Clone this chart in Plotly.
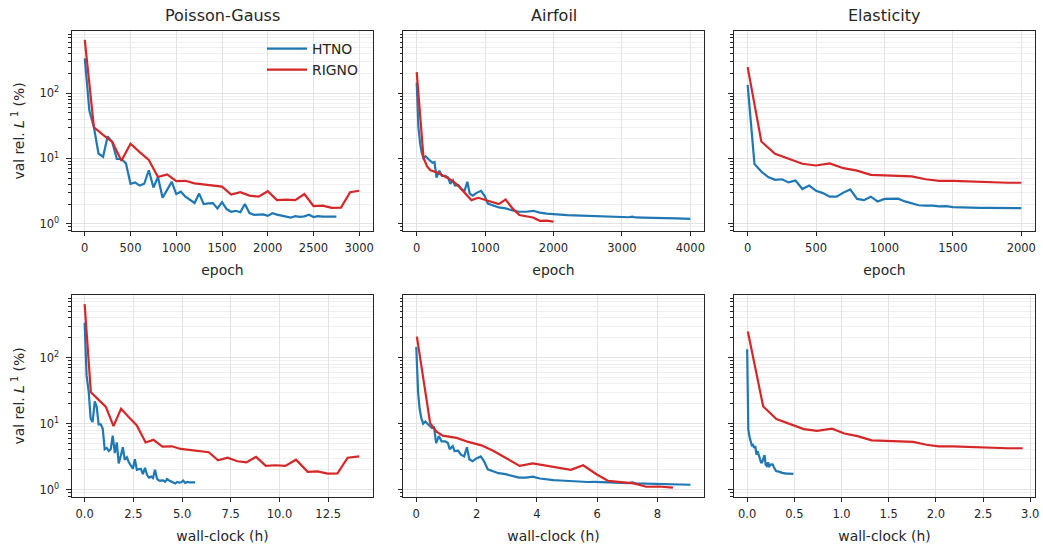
import plotly.graph_objects as go
from plotly.subplots import make_subplots

# ---------------- data ----------------
titles = ["Poisson-Gauss", "Airfoil", "Elasticity"]
series_names = ["HTNO", "RIGNO"]

# Poisson-Gauss
pg_htno_epoch = [0, 50, 100, 150, 200, 250, 300, 350, 400, 450, 500, 550, 600, 650, 700, 750, 800, 850, 900, 950,
                 1000, 1050, 1100, 1150, 1200, 1250, 1300, 1350, 1400, 1450, 1500, 1550, 1600, 1650, 1700, 1750,
                 1800, 1850, 1900, 1950, 2000, 2050, 2100, 2150, 2200, 2250, 2300, 2350, 2400, 2450, 2500, 2550,
                 2600, 2650, 2700, 2750]
pg_htno_val = [340, 54, 30, 11.9, 10.6, 21.8, 17.9, 9.8, 9.8, 8.4, 4.1, 4.3, 3.85, 4.1, 6.6, 3.6, 5.2, 2.5, 3.3, 4.4,
               2.85, 3.1, 2.6, 2.3, 2.08, 2.9, 2.0, 2.05, 2.07, 1.72, 2.15, 1.68, 1.53, 1.58, 1.5, 2.0,
               1.46, 1.37, 1.37, 1.39, 1.32, 1.45, 1.38, 1.34, 1.29, 1.24, 1.31, 1.28, 1.3, 1.38, 1.27, 1.31,
               1.29, 1.29, 1.29, 1.29]
pg_htno_time = [0.0, 0.10, 0.21, 0.31, 0.41, 0.52, 0.62, 0.72, 0.83, 0.93, 1.03, 1.14, 1.24, 1.34, 1.44, 1.55, 1.65,
                1.75, 1.86, 1.96, 2.06, 2.17, 2.27, 2.37, 2.48, 2.58, 2.68, 2.79, 2.89, 2.99, 3.10, 3.20, 3.30,
                3.41, 3.51, 3.61, 3.72, 3.82, 3.92, 4.03, 4.13, 4.23, 4.34, 4.44, 4.54, 4.65, 4.75, 4.85, 4.96,
                5.06, 5.16, 5.27, 5.37, 5.47, 5.58, 5.67]
pg_rigno_epoch = [0, 100, 200, 300, 400, 500, 600, 700, 800, 900, 1000, 1100, 1200, 1300, 1400, 1500, 1600, 1700,
                  1800, 1900, 2000, 2100, 2200, 2300, 2400, 2500, 2600, 2700, 2800, 2900, 3000]
pg_rigno_val = [650, 30, 23, 18, 9.2, 16.8, 12.5, 9.5, 5.2, 5.7, 4.5, 4.55, 4.15, 4.0, 3.85, 3.7, 2.8, 3.05,
                2.7, 2.6, 3.15, 2.3, 2.35, 2.3, 2.85, 1.87, 1.9, 1.75, 1.77, 3.05, 3.2]
pg_rigno_time = [0.0, 0.32, 0.72, 1.09, 1.48, 1.87, 2.27, 2.67, 3.13, 3.53, 3.99, 4.48, 4.94, 5.42, 5.9, 6.37,
                 6.85, 7.34, 7.84, 8.3, 8.8, 9.3, 9.8, 10.3, 10.85, 11.45, 11.96, 12.47, 12.98, 13.5, 14.1]

# Airfoil
af_htno_epoch = [0, 25, 50, 75, 100, 130, 170, 200, 230, 260, 290, 330, 370, 420, 460, 490, 530, 560, 610, 650,
                 700, 740, 775, 820, 870, 940, 990, 1040, 1110, 1200, 1300, 1400, 1500, 1600, 1700, 1800, 1900,
                 2000, 2100, 2200, 2300, 2400, 2500, 2600, 2700, 2800, 2900, 3000, 3100, 3150, 3200, 3300, 3400,
                 3500, 3600, 3700, 3800, 3900, 4000]
af_htno_val = [145, 30, 17, 12, 10, 10.8, 9.8, 9.2, 8.6, 8.8, 5.1, 6.5, 5.4, 5.4, 5.1, 4.1, 4.6, 3.85, 3.9, 3.4,
               3.2, 4.4, 2.9, 2.7, 2.95, 3.2, 2.7, 2.04, 1.93, 1.78, 1.72, 1.6, 1.53, 1.53, 1.58, 1.48, 1.43,
               1.40, 1.38, 1.36, 1.35, 1.34, 1.31, 1.32, 1.30, 1.29, 1.28, 1.27, 1.26, 1.29, 1.25, 1.24, 1.24,
               1.23, 1.23, 1.22, 1.21, 1.20, 1.19]
af_htno_time = [0.0, 0.06, 0.11, 0.17, 0.23, 0.30, 0.39, 0.46, 0.52, 0.59, 0.66, 0.75, 0.84, 0.96, 1.05, 1.11,
                1.21, 1.27, 1.39, 1.48, 1.59, 1.68, 1.76, 1.87, 1.98, 2.14, 2.25, 2.37, 2.53, 2.73, 2.96, 3.19,
                3.41, 3.64, 3.87, 4.10, 4.32, 4.55, 4.78, 5.01, 5.23, 5.46, 5.69, 5.92, 6.14, 6.37, 6.60, 6.83,
                7.05, 7.17, 7.28, 7.51, 7.74, 7.96, 8.19, 8.42, 8.65, 8.87, 9.10]
af_rigno_epoch = [0, 100, 150, 200, 300, 400, 500, 600, 700, 800, 900, 1000, 1100, 1200, 1300, 1400, 1500, 1600,
                  1700, 1800, 1900, 2000]
af_rigno_val = [209, 10.2, 7.6, 6.6, 6.1, 5.3, 4.7, 3.9, 3.0, 2.3, 2.5, 2.3, 2.16, 2.0, 2.35, 1.72, 1.36, 1.29,
                1.25, 1.11, 1.12, 1.08]
af_rigno_time = [0.02, 0.46, 0.67, 0.88, 1.34, 1.73, 2.16, 2.55, 2.99, 3.43, 3.87, 4.3, 4.75, 5.13, 5.54, 5.98,
                 6.37, 6.78, 7.22, 7.63, 8.04, 8.52]

# Elasticity
el_htno_epoch = [0, 50, 100, 150, 200, 250, 300, 350, 400, 450, 500, 550, 600, 650, 700, 750, 800, 850, 900, 950,
                 1000, 1050, 1100, 1150, 1200, 1250, 1300, 1350, 1400, 1450, 1500, 1550, 1600, 1650, 1700, 1750,
                 1800, 1850, 1900, 1950, 2000]
el_htno_val = [134, 8.2, 6.3, 5.2, 4.7, 4.8, 4.3, 4.6, 3.4, 3.85, 3.2, 2.95, 2.6, 2.6, 3.0, 3.35, 2.4, 2.3, 2.6,
               2.2, 2.4, 2.4, 2.42, 2.2, 2.07, 1.92, 1.9, 1.9, 1.85, 1.86, 1.8, 1.78, 1.77, 1.76, 1.75, 1.75,
               1.75, 1.75, 1.74, 1.74, 1.74]
el_htno_time = [0.0, 0.012, 0.025, 0.037, 0.049, 0.061, 0.074, 0.086, 0.098, 0.110, 0.123, 0.135, 0.147, 0.159,
                0.172, 0.184, 0.196, 0.208, 0.221, 0.233, 0.245, 0.257, 0.270, 0.282, 0.294, 0.306, 0.319,
                0.331, 0.343, 0.355, 0.368, 0.380, 0.392, 0.404, 0.417, 0.429, 0.441, 0.453, 0.466, 0.478, 0.490]
el_rigno_epoch = [0, 100, 200, 300, 400, 500, 600, 700, 800, 900, 1000, 1100, 1200, 1300, 1400, 1500, 1600, 1700,
                  1800, 1900, 2000]
el_rigno_val = [250, 18.2, 11.8, 9.8, 8.3, 7.8, 8.4, 7.1, 6.5, 5.6, 5.5, 5.45, 5.3, 4.8, 4.55, 4.55, 4.45, 4.4,
                4.25, 4.25, 4.25]
el_rigno_time = [0.007, 0.17, 0.31, 0.47, 0.6, 0.74, 0.9, 1.03, 1.17, 1.32, 1.47, 1.62, 1.76, 1.9, 2.03, 2.18,
                 2.32, 2.48, 2.62, 2.76, 2.92]

y_major = [1, 10, 100]
y_major_text = ["10<sup>0</sup>", "10<sup>1</sup>", "10<sup>2</sup>"]

# ---------------- figure ----------------
FONT = "DejaVu Sans"
BLUE = "#1f77b4"
RED = "#d62728"
INK = "#262626"

fig = make_subplots(rows=2, cols=3, horizontal_spacing=0.03, vertical_spacing=0.1)

datasets = [
    (pg_htno_epoch, pg_htno_time, pg_htno_val, pg_rigno_epoch, pg_rigno_time, pg_rigno_val),
    (af_htno_epoch, af_htno_time, af_htno_val, af_rigno_epoch, af_rigno_time, af_rigno_val),
    (el_htno_epoch, el_htno_time, el_htno_val, el_rigno_epoch, el_rigno_time, el_rigno_val),
]

for c, (he, ht, hv, re_, rt, rv) in enumerate(datasets, start=1):
    for r, (hx, rx) in enumerate([(he, re_), (ht, rt)], start=1):
        show = (r == 1 and c == 1)
        fig.add_trace(go.Scatter(x=hx, y=hv, mode="lines", name=series_names[0],
                                 line=dict(color=BLUE, width=2.2), showlegend=show), row=r, col=c)
        fig.add_trace(go.Scatter(x=rx, y=rv, mode="lines", name=series_names[1],
                                 line=dict(color=RED, width=2.2), showlegend=show), row=r, col=c)

x_domains = [[0.0690, 0.3576], [0.3864, 0.6750], [0.7037, 0.9923]]
y_domains = [[0.5754, 0.9430], [0.0864, 0.4577]]
x_ranges = [[[-140, 3150], [-200, 4200], [-100, 2100]],
            [[-0.65, 14.8], [-0.44, 9.55], [-0.14, 3.05]]]
x_dticks = [[500, 1000, 500], [2.5, 2, 0.5]]
x_formats = [["d", "d", "d"], [".1f", "d", ".1f"]]
x_titles = ["epoch", "wall-clock (h)"]

y_minor = [0.8, 0.9] + [2, 3, 4, 5, 6, 7, 8, 9] + [20, 30, 40, 50, 60, 70, 80, 90] + \
          [200, 300, 400, 500, 600, 700, 800, 900]

tickfont = dict(family=FONT, size=11.5, color=INK)
labelfont = dict(family=FONT, size=13.9, color=INK)

for r in range(2):
    for c in range(3):
        idx = r * 3 + c + 1
        xa = "xaxis" if idx == 1 else f"xaxis{idx}"
        ya = "yaxis" if idx == 1 else f"yaxis{idx}"
        fig.layout[xa].update(
            domain=x_domains[c], range=x_ranges[r][c], dtick=x_dticks[r][c], tick0=0,
            tickformat=x_formats[r][c], automargin=False, ticklabelstandoff=2,
            showline=True, mirror=True, linecolor=INK, linewidth=1,
            ticks="outside", ticklen=4.5, tickwidth=1, tickcolor=INK,
            showgrid=True, gridcolor="#e3e3e3", gridwidth=0.8, zeroline=False,
            tickfont=tickfont,
            title=dict(text=x_titles[r], font=labelfont, standoff=10),
        )
        fig.layout[ya].update(
            domain=y_domains[r], type="log", range=[-0.11, 2.95], automargin=False,
            tickmode="array", tickvals=y_major, ticktext=y_major_text,
            showticklabels=(c == 0), ticklabelstandoff=5,
            showline=True, mirror=True, linecolor=INK, linewidth=1,
            ticks="outside", ticklen=4.5, tickwidth=1, tickcolor=INK,
            showgrid=True, gridcolor="#e3e3e3", gridwidth=0.8, zeroline=False,
            minor=dict(tickmode="array", tickvals=y_minor, ticks="outside", ticklen=2.5,
                       tickwidth=0.8, tickcolor=INK, showgrid=True, gridcolor="#f0f0f0", gridwidth=0.7),
            tickfont=tickfont,
        )
        if c == 0:
            fig.layout[ya].title = dict(text="val rel. <i>L</i><sup> 1</sup> (%)", font=labelfont, standoff=11)

# panel titles
for c, t in enumerate(titles):
    fig.add_annotation(text=t, x=sum(x_domains[c]) / 2, y=1 - 15 / 544, xref="paper", yref="paper",
                       xanchor="center", yanchor="middle", showarrow=False,
                       font=dict(family=FONT, size=16, color=INK))

fig.update_layout(
    width=1043, height=544,
    margin=dict(l=0, r=0, t=0, b=0, autoexpand=False),
    paper_bgcolor="white", plot_bgcolor="white",
    font=dict(family=FONT, color=INK),
    showlegend=True,
    legend=dict(x=262 / 1043, y=1 - 33 / 544, xanchor="left", yanchor="top",
                bgcolor="rgba(0,0,0,0)", borderwidth=0,
                font=dict(family=FONT, size=13.9, color=INK),
                tracegroupgap=0, itemwidth=40),
)

fig.write_html("out.html", config={"displayModeBar": False},
               post_script="document.body.style.margin='0';document.body.style.overflow='hidden';")
